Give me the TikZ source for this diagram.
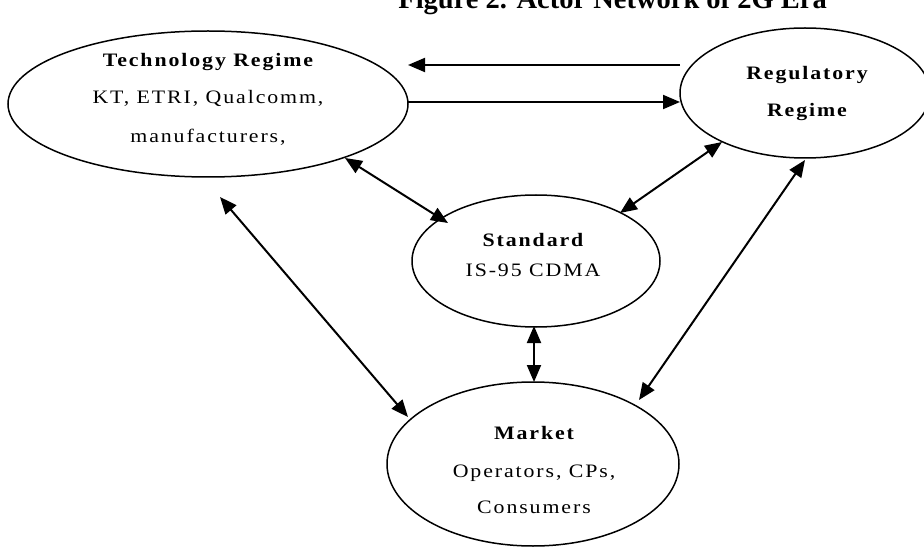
\documentclass[tikz,border=0pt]{standalone}
\usepackage{fontspec}
\setmainfont{Liberation Serif}
\newfontfamily\lblfont{Liberation Serif}[FakeStretch=1.15, LetterSpace=10]
\usetikzlibrary{shapes.geometric,arrows.meta}
\begin{document}
\begin{tikzpicture}[x=1pt,y=1pt,
  actor/.style={draw, ellipse, line width=1.5pt, inner sep=0pt},
  lbl/.style={font=\lblfont\fontsize{19}{22}\selectfont, anchor=base, inner sep=0pt},
  hd/.style={lbl, font=\lblfont\bfseries\fontsize{19}{22}\selectfont},
  link/.style={line width=2pt, -{Triangle[length=17pt,width=14pt]}},
  both/.style={line width=2pt, {Triangle[length=17pt,width=14pt]}-{Triangle[length=17pt,width=14pt]}}]
\useasboundingbox (0,0) rectangle (924,547);

% title (clipped by page top, as in the reference)
\node[anchor=base east, inner sep=0pt, font=\bfseries\fontsize{28.5}{32}\selectfont] (title) at (827,538) {Figure 2. Actor Network of 2G Era};

% ellipses
\node[actor, minimum width=400pt, minimum height=146pt] (tech) at (208,443) {};
\node[actor, minimum width=250pt, minimum height=130pt] (reg) at (805,454) {};
\node[actor, minimum width=248pt, minimum height=132pt] (std) at (536,286) {};
\node[actor, minimum width=292pt, minimum height=164pt] (mkt) at (533,83) {};

% texts
\node[hd]  (tech1) at (208,480) {Technology Regime};
\node[lbl] (tech2) at (208,443) {KT, ETRI, Qualcomm,};
\node[lbl] (tech3) at (208,404.5) {manufacturers,};

\node[hd] (reg1) at (807,467) {Regulatory};
\node[hd] (reg2) at (807,430) {Regime};

\node[hd]  (std1) at (533,300) {Standard};
\node[lbl] (std2) at (533,270) {IS-95 CDMA};

\node[hd]  (mkt1) at (534,108) {Market};
\node[lbl] (mkt2) at (534,70) {Operators, CPs,};
\node[lbl] (mkt3) at (534,34) {Consumers};

% connector end points
\coordinate (r1) at (680,482);  \coordinate (t1) at (408,482);
\coordinate (t2) at (408,445);  \coordinate (r2) at (680,445);
\coordinate (t3) at (345,389);  \coordinate (s1) at (448,324);
\coordinate (s2) at (620,334);  \coordinate (r3) at (722,405);
\coordinate (t4) at (220,350);  \coordinate (m1) at (408,130);
\coordinate (s3) at (534,221);  \coordinate (m2) at (534,165);
\coordinate (r4) at (805,387);  \coordinate (m3) at (639,147);

\draw[link] (r1) -- (t1);
\draw[link] (t2) -- (r2);
\draw[both] (t3) -- (s1);
\draw[both] (s2) -- (r3);
\draw[both] (t4) -- (m1);
\draw[both] (s3) -- (m2);
\draw[both] (r4) -- (m3);
\end{tikzpicture}
\end{document}
